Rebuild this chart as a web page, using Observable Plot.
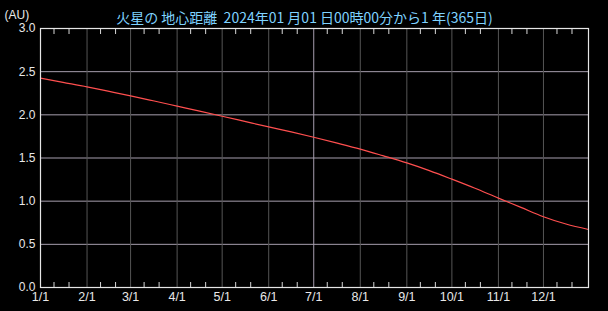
<!DOCTYPE html>
<html>
<head>
<meta charset="utf-8">
<script src="https://cdn.jsdelivr.net/npm/d3@7"></script>
<script src="https://cdn.jsdelivr.net/npm/@observablehq/plot@0.6"></script>
<style>
  html, body { margin: 0; padding: 0; background: #000; }
  svg { white-space: pre; }
</style>
</head>
<body>
<div id="chart"></div>
<script>
const titleText = "火星の 地心距離  2024年01 月01 日00時00分から1 年(365日)";
const unitText = "(AU)";

// Sampled dates (month starts and mid-months) and geocentric distance of Mars (AU)
const dates = [
  "2024-01-01","2024-01-16","2024-02-01","2024-02-15","2024-03-01","2024-03-16",
  "2024-04-01","2024-04-16","2024-05-01","2024-05-16","2024-06-01","2024-06-16",
  "2024-07-01","2024-07-16","2024-08-01","2024-08-16","2024-09-01","2024-09-16",
  "2024-10-01","2024-10-16","2024-11-01","2024-11-16","2024-12-01","2024-12-16","2024-12-31"
];
const distances = [
  2.425, 2.376, 2.324, 2.274, 2.220, 2.163,
  2.101, 2.043, 1.984, 1.924, 1.860, 1.802,
  1.740, 1.675, 1.603, 1.527, 1.443, 1.354,
  1.255, 1.152, 1.035, 0.928, 0.820, 0.735, 0.672
];

const yTicks = [0, 0.5, 1.0, 1.5, 2.0, 2.5, 3.0];
const yGrid = [0.5, 1.0, 1.5, 2.0, 2.5];
const monthLabels = ["1/1","2/1","3/1","4/1","5/1","6/1","7/1","8/1","9/1","10/1","11/1","12/1"];

const monthStarts = d3.range(12).map(m => new Date(Date.UTC(2024, m, 1)));
const minorTicks = d3.range(12).flatMap(m => [new Date(Date.UTC(2024, m, 10)), new Date(Date.UTC(2024, m, 20))]);
const midYear = new Date(Date.UTC(2024, 6, 1));

const data = dates.map((d, i) => ({date: new Date(d + "T00:00:00Z"), value: distances[i]}));

const chart = Plot.plot({
  width: 608,
  height: 311,
  marginLeft: 40,
  marginRight: 20,
  marginTop: 28,
  marginBottom: 24,
  style: {background: "#000", color: "#e0e0e0", fontFamily: "'Liberation Sans', 'DejaVu Sans', sans-serif"},
  x: {type: "utc", domain: [new Date(Date.UTC(2024,0,1)), new Date(Date.UTC(2024,11,31))]},
  y: {domain: [0, 3]},
  marks: [
    Plot.ruleY(yGrid, {stroke: "#a69eae", strokeWidth: 1}),
    Plot.ruleX(monthStarts.slice(1), {stroke: d => +d === +midYear ? "#a69eae" : "#555555", strokeWidth: 1}),
    Plot.line(data, {x: "date", y: "value", stroke: "#ff4f4f", strokeWidth: 1.2, curve: "monotone-x"}),
    Plot.axisX(minorTicks, {anchor: "bottom", tickSize: -5, text: null, stroke: "#d8d8d8", label: null}),
    Plot.axisX(minorTicks, {anchor: "top", tickSize: -5, text: null, stroke: "#d8d8d8", label: null}),
    Plot.axisX(monthStarts, {anchor: "bottom", tickSize: 0, tickPadding: 5, fontSize: 12.5, label: null,
      tickFormat: (d, i) => monthLabels[i], fill: "#e8e8e8"}),
    Plot.axisY(yTicks, {anchor: "left", tickSize: 0, tickPadding: 5, fontSize: 12, label: null,
      tickFormat: d3.format(".1f"), fill: "#e8e8e8"}),
    Plot.frame({stroke: "#e6e6e6", strokeWidth: 1.2}),
    Plot.text([titleText], {frameAnchor: "top-left", dx: 264, dy: -15, textAnchor: "middle",
      fill: "#7fd3ff", fontSize: 14, fontFamily: "'Noto Sans CJK JP', sans-serif"}),
    Plot.text([unitText], {frameAnchor: "top-left", dx: -36, dy: -18, textAnchor: "start",
      fill: "#e8e8e8", fontSize: 12})
  ]
});
document.getElementById("chart").appendChild(chart);
</script>
</body>
</html>
